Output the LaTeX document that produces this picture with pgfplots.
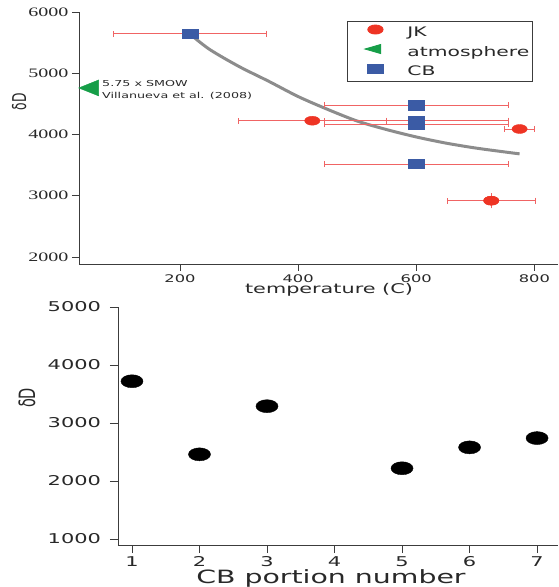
\documentclass[border=0pt]{standalone}
\usepackage{fontspec}
\setmainfont[FakeStretch=1.55]{DejaVu Sans}
\newfontfamily\serifw[FakeStretch=1.55]{Liberation Serif}
\newfontfamily\plainsans{DejaVu Sans}
\usepackage{graphicx}
\usepackage{pgfplots}
\pgfplotsset{compat=1.18}
\definecolor{jkred}{RGB}{238,52,36}
\definecolor{cbblue}{RGB}{59,91,165}
\definecolor{atmgreen}{RGB}{22,158,72}
\definecolor{errred}{RGB}{240,100,100}
\definecolor{curvegray}{RGB}{140,140,140}
\definecolor{axisgray}{RGB}{60,60,60}
\definecolor{textgray}{RGB}{40,40,40}
\pgfplotstableread{
x y ex
424 4225 125
775 4090 25
727 2920 75
}\jkdata
\pgfplotstableread{
x y ex
217 5645 130
600 4480 156
600 4225 156
600 4170 156
600 3520 156
}\cbdata
\begin{document}
\begin{tikzpicture}
\path[use as bounding box] (0,0) rectangle (559pt,587pt);
\begin{axis}[
  at={(79pt,323pt)}, anchor=south west, scale only axis,
  width=479pt, height=252pt,
  xmin=29, xmax=840, ymin=1886, ymax=6000,
  axis x line*=bottom, axis y line*=left,
  axis line style={-, draw=axisgray, line width=0.9pt},
  tick align=outside, major tick length=7pt,
  tick style={draw=axisgray, line width=0.9pt},
  xtick={200,400,600,800}, xticklabels={200,400,600,800},
  ytick={2000,3000,4000,5000,6000}, yticklabels={2000,3000,4000,5000,6000},
  xticklabel style={font=\fontsize{10.5}{12}\selectfont, text=textgray},
  yticklabel style={font=\serifw\fontsize{12.9}{14}\selectfont, text=textgray},
  xlabel={temperature (C)},
  xlabel style={at={(axis description cs:0.522,0)}, anchor=base, yshift=-30pt,
    font=\fontsize{13.4}{15}\selectfont, text=textgray},
  ylabel={\scalebox{1}[1.55]{δD}},
  ylabel style={at={(axis description cs:-0.125,0.643)}, anchor=center,
    font=\plainsans\fontsize{12.3}{14}\selectfont, text=textgray},
  clip=false,
  legend style={at={(axis description cs:0.5595,0.964)}, anchor=north west,
    draw=axisgray, line width=0.9pt, font=\fontsize{13.1}{15}\selectfont,
    text=textgray, inner xsep=3pt, inner ysep=3.5pt,
    nodes={inner sep=0pt, text height=9.5pt, text depth=2.5pt},
    row sep=5.5pt, column sep=0pt},
  legend cell align=left,
  legend image code/.code={\path[draw=none,fill=none] (0pt,-3pt) rectangle (57pt,3pt); \draw[only marks] plot coordinates {(25pt,3.5pt)};},
]
\addlegendimage{only marks, mark=*, mark size=4.5pt, mark options={xscale=1.7, fill=jkred, draw=jkred}}
\addlegendentry{JK}
\addlegendimage{only marks, mark=triangle*, mark size=5.2pt, mark options={xscale=2, rotate=90, fill=atmgreen, draw=atmgreen}}
\addlegendentry{atmosphere}
\addlegendimage{only marks, mark=square*, mark size=4.6pt, mark options={xscale=1.7, fill=cbblue, draw=cbblue}}
\addlegendentry{CB}
% fit curve
\addplot[forget plot, curvegray, line width=3pt, smooth, no marks] coordinates {
(217,5640) (250,5390) (300,5110) (350,4870) (400,4620) (450,4410) (500,4220)
(550,4080) (600,3960) (650,3860) (700,3780) (750,3715) (775,3684)};
% JK
\addplot[forget plot, only marks, mark=*, mark size=4.5pt,
  mark options={xscale=1.7, fill=jkred, draw=jkred},
  error bars/.cd, x dir=both, x explicit, error mark=|,
  error bar style={color=errred, line width=0.8pt},
  error mark options={color=errred, mark size=3pt, line width=0.8pt}]
  table[x=x, y=y, x error=ex] {\jkdata};
\addplot[forget plot, only marks, mark=*, mark size=4.5pt,
  mark options={xscale=1.7, fill=jkred, draw=jkred},
  error bars/.cd, y dir=both, y explicit,
  error bar style={color=errred, line width=0.8pt},
  error mark options={color=errred, mark size=3pt, line width=0.8pt}]
  coordinates {(727,2920) +- (0,75)};
% CB
\addplot[forget plot, only marks, mark=square*, mark size=4.7pt,
  mark options={xscale=1.7, fill=cbblue, draw=cbblue},
  error bars/.cd, x dir=both, x explicit, error mark=|,
  error bar style={color=errred, line width=0.8pt},
  error mark options={color=errred, mark size=3pt, line width=0.8pt}]
  table[x=x, y=y, x error=ex] {\cbdata};
% atmosphere
\addplot[forget plot, only marks, mark=triangle*, mark size=9.2pt,
  mark options={xscale=1.45, rotate=90, fill=atmgreen, draw=atmgreen}]
  coordinates {(51,4760)};
\node[anchor=base west, font=\fontsize{8.2}{10}\selectfont, text=textgray, inner sep=0pt]
  at (axis cs:68,4776) {5.75 x SMOW};
\node[anchor=base west, font=\fontsize{8.2}{10}\selectfont, text=textgray, inner sep=0pt]
  at (axis cs:68,4580) {Villanueva et al. (2008)};
\end{axis}

\begin{axis}[
  at={(118pt,42pt)}, anchor=south west, scale only axis,
  width=440pt, height=238pt,
  xmin=0.793, xmax=7.31, ymin=897, ymax=5000,
  axis x line*=bottom, axis y line*=left,
  axis line style={-, draw=axisgray, line width=0.9pt},
  tick align=outside, major tick length=8pt,
  tick style={draw=axisgray, line width=0.9pt},
  xtick={1,2,3,4,5,6,7}, xticklabels={1,2,3,4,5,6,7},
  ytick={1000,2000,3000,4000,5000}, yticklabels={1000,2000,3000,4000,5000},
  xticklabel style={font=\fontsize{13.5}{15}\selectfont, text=textgray},
  yticklabel style={font=\fontsize{13.5}{15}\selectfont, text=textgray, xshift=-5.5pt},
  xlabel={CB portion number},
  xlabel style={at={(axis description cs:0.484,0)}, anchor=base, yshift=-38pt,
    font=\fontsize{18.3}{20}\selectfont, text=textgray},
  ylabel={\scalebox{1}[1.55]{δD}},
  ylabel style={at={(axis description cs:-0.207,0.618)}, anchor=center,
    font=\plainsans\fontsize{14.5}{16}\selectfont, text=textgray},
  clip=false,
]
\addplot[only marks, mark=*, mark size=6.5pt, mark options={xscale=1.7, fill=black, draw=black}]
  coordinates {(1,3720) (2,2460) (3,3290) (5,2220) (6,2580) (7,2740)};
\end{axis}
\end{tikzpicture}
\end{document}
